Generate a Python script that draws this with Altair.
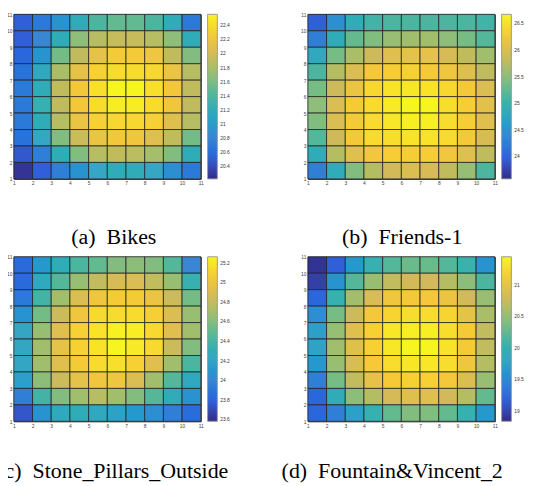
import altair as alt
import pandas as pd

# ---------------- data (rows listed top -> bottom, i.e. y = 10 .. 1; columns x = 1 .. 10)
bikes = [
    [20.49, 20.68, 20.92, 21.20, 21.39, 21.50, 21.50, 21.39, 21.20, 20.68],
    [20.49, 20.80, 21.20, 21.67, 21.86, 21.93, 21.93, 21.86, 21.67, 21.20],
    [20.54, 20.92, 21.57, 21.90, 22.14, 22.28, 22.28, 22.21, 21.90, 21.62],
    [20.63, 21.15, 21.81, 22.14, 22.33, 22.40, 22.40, 22.37, 22.18, 21.86],
    [20.68, 21.20, 21.90, 22.25, 22.42, 22.56, 22.56, 22.42, 22.25, 21.90],
    [20.68, 21.27, 21.90, 22.25, 22.40, 22.51, 22.51, 22.40, 22.23, 21.90],
    [20.68, 21.20, 21.86, 22.18, 22.33, 22.37, 22.37, 22.33, 22.09, 21.86],
    [20.63, 21.10, 21.62, 21.95, 22.18, 22.25, 22.23, 22.09, 21.90, 21.57],
    [20.45, 20.73, 21.20, 21.62, 21.86, 21.90, 21.88, 21.78, 21.62, 21.20],
    [20.26, 20.49, 20.73, 20.92, 21.10, 21.20, 21.20, 21.10, 20.87, 20.68],
]
friends = [
    [23.95, 24.45, 24.88, 25.06, 25.13, 25.13, 25.13, 25.13, 25.13, 25.06],
    [24.26, 24.88, 25.28, 25.43, 25.56, 25.62, 25.62, 25.50, 25.37, 25.19],
    [24.82, 25.37, 25.68, 25.87, 26.05, 26.11, 26.11, 25.96, 25.80, 25.62],
    [25.13, 25.74, 25.99, 26.27, 26.33, 26.36, 26.30, 26.21, 26.02, 25.80],
    [25.37, 25.87, 26.18, 26.42, 26.52, 26.55, 26.52, 26.42, 26.27, 25.99],
    [25.50, 25.99, 26.30, 26.45, 26.58, 26.67, 26.67, 26.48, 26.33, 26.08],
    [25.43, 25.99, 26.30, 26.45, 26.55, 26.61, 26.61, 26.48, 26.33, 26.05],
    [25.19, 25.87, 26.27, 26.45, 26.48, 26.52, 26.52, 26.45, 26.27, 25.96],
    [24.88, 25.74, 26.05, 26.24, 26.33, 26.33, 26.33, 26.24, 26.05, 25.80],
    [24.26, 24.88, 25.43, 25.74, 25.90, 25.99, 25.96, 25.80, 25.56, 25.13],
]
stone = [
    [23.83, 24.12, 24.29, 24.42, 24.50, 24.59, 24.62, 24.59, 24.45, 24.00],
    [23.83, 24.25, 24.45, 24.66, 24.79, 24.87, 24.89, 24.79, 24.66, 24.34],
    [23.92, 24.39, 24.69, 24.89, 25.01, 25.06, 25.06, 24.99, 24.82, 24.55],
    [24.08, 24.55, 24.82, 25.02, 25.13, 25.14, 25.14, 25.08, 24.89, 24.66],
    [24.22, 24.66, 24.92, 25.09, 25.18, 25.24, 25.23, 25.13, 24.92, 24.69],
    [24.22, 24.69, 24.96, 25.09, 25.18, 25.26, 25.21, 25.13, 24.82, 24.59],
    [24.22, 24.69, 24.92, 25.06, 25.14, 25.16, 25.09, 24.92, 24.69, 24.42],
    [24.17, 24.62, 24.82, 24.96, 25.02, 25.01, 24.89, 24.69, 24.45, 24.25],
    [23.95, 24.39, 24.59, 24.69, 24.76, 24.69, 24.59, 24.45, 24.29, 24.08],
    [23.75, 24.08, 24.25, 24.29, 24.25, 24.18, 24.12, 24.05, 23.95, 23.85],
]
fountain = [
    [18.88, 19.14, 19.67, 20.01, 20.19, 20.30, 20.30, 20.19, 20.04, 19.62],
    [18.96, 19.62, 20.19, 20.51, 20.72, 20.80, 20.80, 20.66, 20.45, 20.14],
    [19.20, 20.01, 20.56, 20.85, 21.06, 21.11, 21.11, 21.03, 20.80, 20.51],
    [19.56, 20.35, 20.77, 21.11, 21.21, 21.27, 21.27, 21.21, 20.98, 20.61],
    [19.75, 20.51, 20.93, 21.19, 21.35, 21.40, 21.40, 21.29, 21.14, 20.72],
    [19.77, 20.56, 20.93, 21.19, 21.35, 21.45, 21.45, 21.32, 21.14, 20.72],
    [19.67, 20.51, 20.85, 21.14, 21.27, 21.35, 21.35, 21.27, 21.06, 20.66],
    [19.41, 20.35, 20.72, 20.98, 21.14, 21.19, 21.19, 21.11, 20.87, 20.51],
    [19.20, 19.93, 20.45, 20.66, 20.82, 20.93, 20.93, 20.80, 20.66, 20.27],
    [19.20, 19.41, 19.75, 20.01, 20.27, 20.40, 20.40, 20.27, 20.01, 19.67],
]

axis_ticks = [1, 2, 3, 4, 5, 6, 7, 8, 9, 10, 11]

bikes_domain = [20.21, 22.56]
friends_domain = [23.58, 26.67]
stone_domain = [23.58, 25.26]
fountain_domain = [18.83, 21.45]

bikes_cbar = [20.4, 20.6, 20.8, 21, 21.2, 21.4, 21.6, 21.8, 22, 22.2, 22.4]
friends_cbar = [24, 24.5, 25, 25.5, 26, 26.5]
stone_cbar = [23.6, 23.8, 24, 24.2, 24.4, 24.6, 24.8, 25, 25.2]
fountain_cbar = [19, 19.5, 20, 20.5, 21]

captions = ["(a)\u00a0\u00a0Bikes", "(b)\u00a0\u00a0Friends-1",
            "(c)\u00a0\u00a0Stone_Pillars_Outside", "(d)\u00a0\u00a0Fountain&Vincent_2"]

PARULA = ["#302b85", "#2f62dc", "#3a86d2", "#36a5c4", "#4cb5a0",
          "#90be78", "#d2ba5a", "#f5c838", "#f7f520"]

W, H = 192, 169


def to_frame(grid):
    recs = []
    for i, row in enumerate(grid):
        y0 = len(grid) - i
        for j, v in enumerate(row):
            recs.append({"x": j + 1, "x2": j + 2, "y": y0, "y2": y0 + 1, "v": v})
    return pd.DataFrame(recs)


def panel(grid, domain, cbar, caption, cap_dx, cap_offset):
    df = to_frame(grid)
    ax = dict(values=axis_ticks, title=None, ticks=False, domain=False, grid=False,
              labelFontSize=5, labelFont="Liberation Sans", labelColor="#444",
              labelPadding=2, labelFlush=False, format="d")
    return alt.Chart(df).mark_rect(stroke="#222", strokeWidth=1, strokeOpacity=0.8).encode(
        x=alt.X("x:Q", scale=alt.Scale(domain=[1, 11], nice=False, zero=False), axis=alt.Axis(**ax)),
        x2="x2:Q",
        y=alt.Y("y:Q", scale=alt.Scale(domain=[1, 11], nice=False, zero=False), axis=alt.Axis(**ax)),
        y2="y2:Q",
        color=alt.Color("v:Q", scale=alt.Scale(domain=domain, range=PARULA, nice=False, zero=False),
                        legend=alt.Legend(orient="none", legendX=W + 7, legendY=0, direction="vertical",
                                          gradientLength=H, gradientThickness=10, title=None,
                                          values=cbar, format=".3~g", labelFontSize=5,
                                          labelFont="Liberation Sans", labelColor="#333",
                                          labelOffset=3, gradientStrokeColor="#999",
                                          gradientStrokeWidth=1, padding=0, labelOverlap=False)),
    ).properties(
        width=W, height=H,
        title=alt.TitleParams(caption, orient="bottom", anchor="start", frame="group", dx=cap_dx,
                              offset=cap_offset, baseline="alphabetic", font="Liberation Serif",
                              fontSize=22.5, fontWeight="normal", color="black"),
    )


pa = panel(bikes, bikes_domain, bikes_cbar, captions[0], 59, 60)
pb = panel(friends, friends_domain, friends_cbar, captions[1], 35, 60)
pc = panel(stone, stone_domain, stone_cbar, captions[2], -17, 51)
pd_ = panel(fountain, fountain_domain, fountain_cbar, captions[3], -27, 51)

chart = alt.concat(pa, pb, pc, pd_, columns=2, spacing={"row": 80, "column": 110},
                   bounds="flush").resolve_scale(
    color="independent"
).configure_view(stroke="#222", strokeWidth=1).properties(
    padding={"left": -12, "top": -3, "right": 0, "bottom": 0},
    background="white",
)

chart.save("out.html", embed_options={"renderer": "svg", "actions": False})
